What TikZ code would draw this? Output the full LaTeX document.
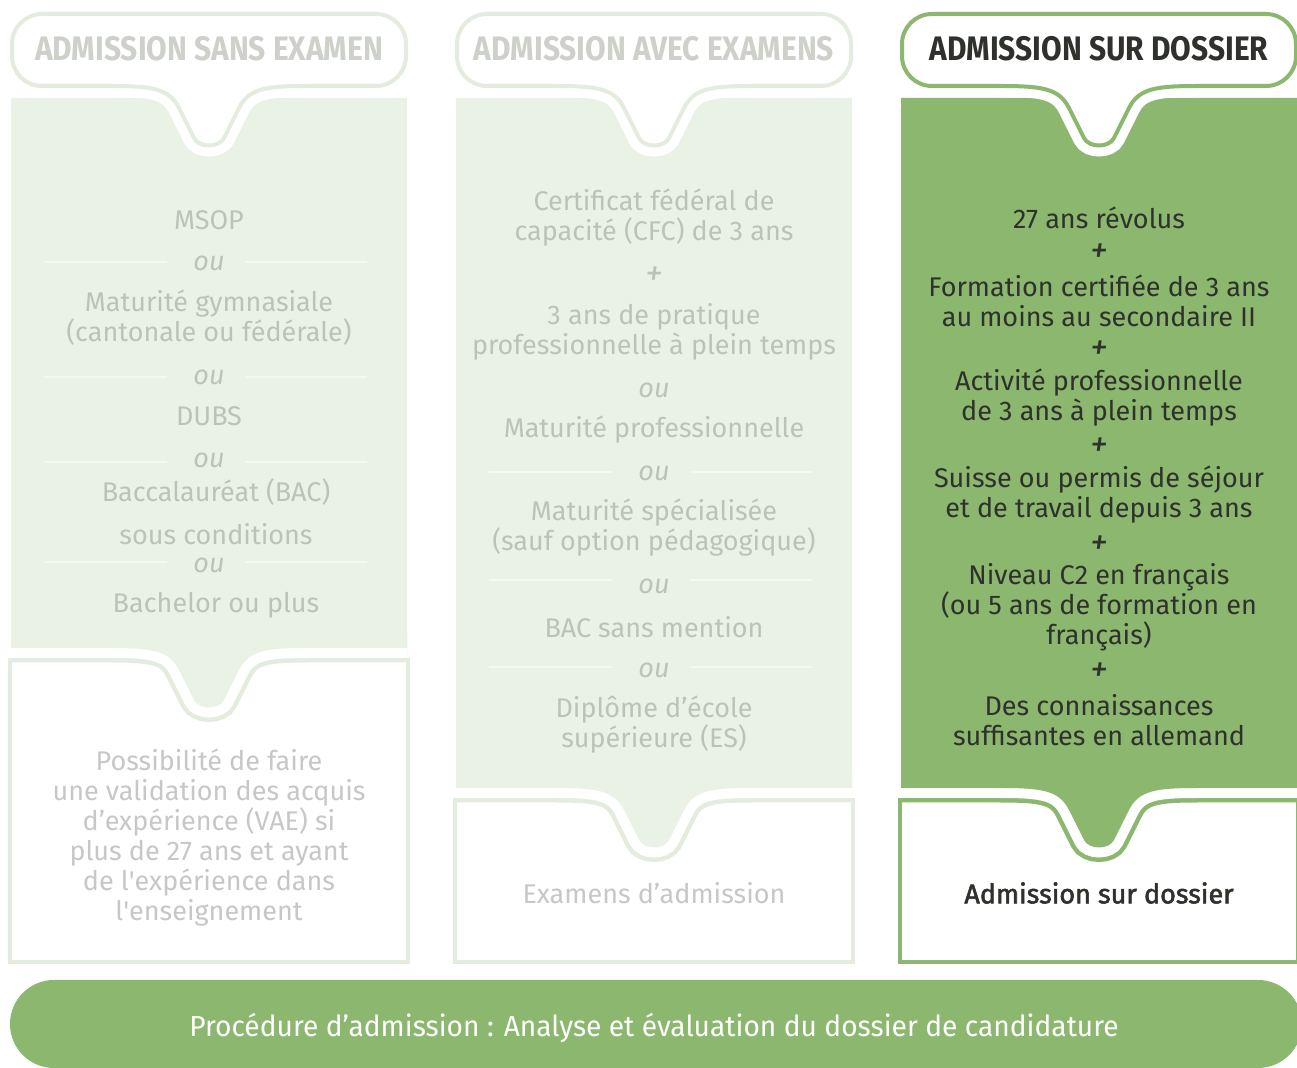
\documentclass[tikz,border=0pt]{standalone}
\usepackage{fontspec}
\setmainfont[FakeStretch=1.0]{Fira Sans}
\newfontfamily\headfont[FakeStretch=0.88]{Fira Sans}
\newfontfamily\barfont[FakeStretch=0.97]{Fira Sans}
\newfontfamily\medfont[FakeBold=2]{Fira Sans}
\usepackage{tikz}
\definecolor{dgreen}{HTML}{8BB76F}
\definecolor{lfill}{HTML}{EAF2E6}
\definecolor{lline}{HTML}{E3ECDF}
\definecolor{ltxt}{HTML}{BCC2B8}
\definecolor{lgrey}{HTML}{C6C8C5}
\definecolor{lhead}{HTML}{CDD1CA}
\definecolor{dtxt}{HTML}{2E312C}
\definecolor{sepc}{HTML}{F4F8F2}

\begin{document}
\begin{tikzpicture}[x = .5pt, y = -.5pt,
  lt/.style = {text = ltxt, font = \fontsize{13.5}{15}\selectfont, align = center},
  dk/.style = {text = dtxt, font = \fontsize{13.5}{15}\selectfont, align = center},
  ortxt/.style = {font = \fontsize{13.5}{15}\selectfont\itshape},
  plustxt/.style = {font = \fontsize{18}{18}\selectfont\itshape},
  hd/.style = {font = \headfont\bfseries\fontsize{17}{20}\selectfont},
  sep/.style = {sepc, line width = .75pt},
  notch/.style args = {#1/#2}{insert path = {-- (#1+100, #2) .. controls (#1+58, #2) and (#1+40, #2+2) .. (#1+30, #2+22) -- (#1+15, #2+52) .. controls (#1+10, #2+62) and (#1-10, #2+62) .. (#1-15, #2+52) -- (#1-30, #2+22) .. controls (#1-40, #2+2) and (#1-58, #2) .. (#1-100, #2)}},
  pill/.style = {insert path = {-- (#1+167, 14) .. controls (#1+183.6, 14) and (#1+197, 27.4) .. (#1+197, 44) -- (#1+197, 56) .. controls (#1+197, 72.6) and (#1+183.6, 86) .. (#1+167, 86) [notch = #1/86] -- (#1-167, 86) .. controls (#1-183.6, 86) and (#1-197, 72.6) .. (#1-197, 56) -- (#1-197, 44) .. controls (#1-197, 27.4) and (#1-183.6, 14) .. (#1-167, 14) -- cycle}}]
 \useasboundingbox (0, 0) rectangle (1297, 1068);

 \foreach \cx/\yb/\ln/\fl in {209/648/lline/lfill, 654/788/lline/lfill, 1099/788/dgreen/dgreen} {
  \draw[\ln, line width = 2.25pt, fill = white] (\cx-199, \yb+12) rectangle (\cx+199, 962);
  \draw[\ln, line width = 14.5pt] (\cx+198, \yb) [notch = \cx/\yb] -- (\cx-198, \yb);
  \draw[white, line width = 10pt] (\cx+198, \yb) [notch = \cx/\yb] -- (\cx-198, \yb);
  \fill[\fl] (\cx-198, 98) -- (\cx+198, 98) -- (\cx+198, \yb) [notch = \cx/\yb] -- (\cx-198, \yb) -- cycle;
  \draw[white, line width = 11pt] (\cx-167, 14) [pill = \cx];
  \draw[\ln, line width = 2pt, fill = white] (\cx-167, 14) [pill = \cx];
 }
 \foreach \cx/\y in {209/262, 209/377, 209/462, 209/562, 654/472, 654/580, 654/667}
  \draw[sep] (\cx-165, \y) -- (\cx-42, \y) (\cx+36, \y) -- (\cx+158, \y);

 \node (hsans) [hd, text = lhead] at (209, 49) {ADMISSION SANS EXAMEN};
 \node (havec) [hd, text = lhead] at (654, 49) {ADMISSION AVEC EXAMENS};
 \node (hdossier) [hd, text = dtxt] at (1099, 49) {ADMISSION SUR DOSSIER};

 \node (msop) [lt] at (209, 220) {MSOP};
 \node (ou1) [lt, ortxt] at (209, 263) {ou};
 \node (matgym) [lt] at (209, 318) {Maturité gymnasiale\\(cantonale ou fédérale)};
 \node (ou2) [lt, ortxt] at (209, 377) {ou};
 \node (dubs) [lt] at (209, 416) {DUBS};
 \node (ou3) [lt, ortxt] at (209, 460) {ou};
 \node (bac) [lt] at (216, 492) {Baccalauréat (BAC)};
 \node (souscond) [lt] at (216, 534) {sous conditions};
 \node (ou4) [lt, ortxt] at (209, 565) {ou};
 \node (bachelor) [lt] at (216, 605) {Bachelor ou plus};
 \node (vae) [lt, text = lgrey] at (209, 838) {Possibilité de faire\\une validation des acquis\\d’expérience (VAE) si\\plus de 27 ans et ayant\\de l\textquotesingle expérience dans\\l\textquotesingle enseignement};

 \node (cfc) [lt] at (654, 218) {Certificat fédéral de\\capacité (CFC) de 3 ans};
 \node (plus1) [lt, plustxt] at (654, 276) {+};
 \node (pratique) [lt] at (654, 332) {3 ans de pratique\\professionnelle à plein temps};
 \node (ou5) [lt, ortxt] at (654, 390) {ou};
 \node (matpro) [lt] at (654, 430) {Maturité professionnelle};
 \node (ou6) [lt, ortxt] at (654, 473) {ou};
 \node (matspe) [lt] at (654, 528) {Maturité spécialisée\\(sauf option pédagogique)};
 \node (ou7) [lt, ortxt] at (654, 586) {ou};
 \node (bacsans) [lt] at (654, 627) {BAC sans mention};
 \node (ou8) [lt, ortxt] at (654, 670) {ou};
 \node (es) [lt] at (654, 725) {Diplôme d’école\\supérieure (ES)};
 \node (examens) [lt, text = lgrey] at (654, 893) {Examens d’admission};

 \node (age) [dk] at (1099, 218) {27 ans révolus};
 \node (plus2) [dk, plustxt] at (1099, 253) {+};
 \node (formation) [dk] at (1099, 301) {Formation certifiée de 3 ans\\au moins au secondaire II};
 \node (plus3) [dk, plustxt] at (1099, 350) {+};
 \node (activite) [dk] at (1099, 398) {Activité professionnelle\\de 3 ans à plein temps};
 \node (plus4) [dk, plustxt] at (1099, 447) {+};
 \node (permis) [dk] at (1099, 495) {Suisse ou permis de séjour\\et de travail depuis 3 ans};
 \node (plus5) [dk, plustxt] at (1099, 545) {+};
 \node (niveau) [dk] at (1099, 607) {Niveau C2 en français\\(ou 5 ans de formation en\\français)};
 \node (plus6) [dk, plustxt] at (1099, 672) {+};
 \node (allemand) [dk] at (1099, 720) {Des connaissances\\suffisantes en allemand};
 \node (surdossier) [dk, font = \medfont\fontsize{13.5}{15}\selectfont] at (1099, 893) {Admission sur dossier};

 \fill[dgreen, rounded corners = 22pt] (10, 980) rectangle (1302, 1068);
 \node (procedure) [text = white, font = \barfont\fontsize{14.5}{17}\selectfont] at (654, 1028) {Procédure d’admission : Analyse et évaluation du dossier de candidature};
\end{tikzpicture}
\end{document}
